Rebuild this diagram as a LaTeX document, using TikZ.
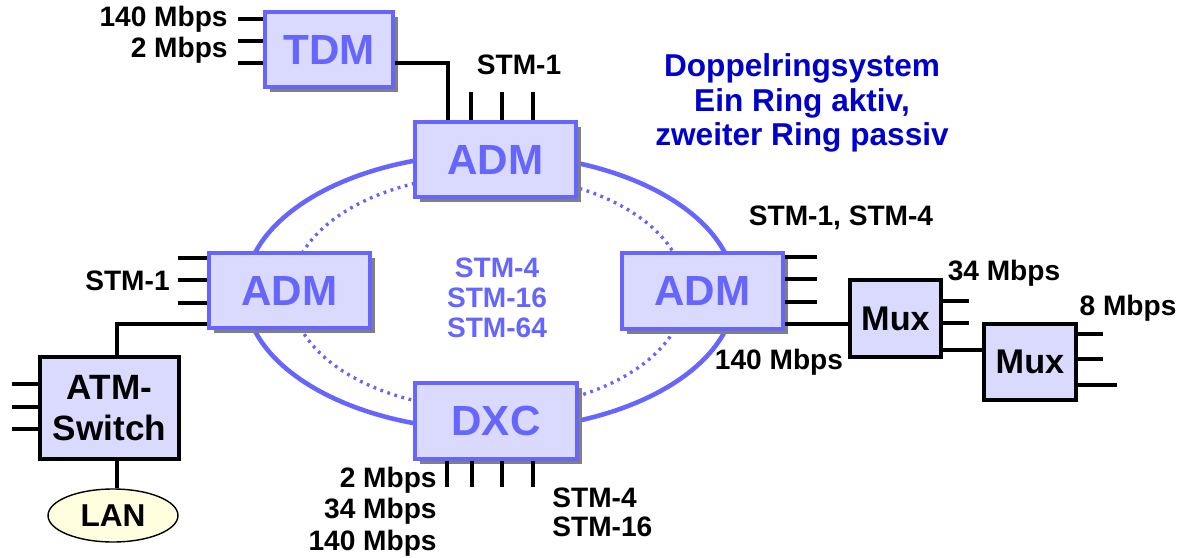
\documentclass[tikz,border=0pt]{standalone}
\usepackage{fontspec}
\setmainfont{Liberation Sans}
\usepackage{xcolor}
\usetikzlibrary{shapes.geometric,shadows}
\definecolor{ringblau}{HTML}{6666FF}
\definecolor{kastenfill}{HTML}{DADAFF}
\definecolor{titelblau}{HTML}{0000CC}
\definecolor{lanfill}{HTML}{FFFFE0}
\newcommand{\lbl}{\fontsize{16}{17.6}\selectfont\bfseries}

\begin{document}
\begin{tikzpicture}[x=0.02cm,y=-0.02cm,
                    knoten/.style={draw=ringblau,line width=2.1pt,fill=kastenfill,
                      text=ringblau,font=\fontsize{24}{26}\selectfont\bfseries,
                      minimum width=3.22cm,minimum height=1.5cm,inner sep=0pt,
                      drop shadow={shadow xshift=0.1cm,shadow yshift=-0.1cm,fill=black!50,opacity=1}},
                    geraet/.style={draw=black,line width=2.4pt,fill=kastenfill,
                      align=center,inner sep=0pt},
                    stub/.style={line width=2.1pt,draw=black},
                    beschr/.style={font=\lbl,inner sep=0pt}]
  \useasboundingbox (0,0) rectangle (1191,558);
  \draw[ringblau,line width=2.6pt] (490,292) ellipse [x radius=4.9cm,y radius=2.76cm];
  \draw[ringblau,line width=1.9pt,dash pattern=on 1.6pt off 2.6pt] (488,292) ellipse [x radius=3.94cm,y radius=2.34cm];

  \node[knoten,minimum width=2.56cm] (tdm) at (329,49.5) {TDM};
  \node[knoten] (admt) at (495.5,159.5) {ADM};
  \node[knoten] (adml) at (289.5,290.5) {ADM};
  \node[knoten,minimum height=1.52cm] (admr) at (702.5,291) {ADM};
  \node[knoten,minimum width=3.24cm,minimum height=1.52cm] (dxc) at (496,421) {DXC};
  \node[geraet,minimum width=2.78cm,minimum height=2.04cm,
        font=\fontsize{20}{23}\selectfont\bfseries] (atm) at (109.5,408) {ATM-\\Switch};
  \node[geraet,minimum width=1.82cm,minimum height=1.54cm,
        font=\fontsize{19.5}{21}\selectfont\bfseries] (mux1) at (895.5,318.5) {Mux};
  \node[geraet,minimum width=1.84cm,minimum height=1.52cm,
        font=\fontsize{19.5}{21}\selectfont\bfseries] (mux2) at (1030,362) {Mux};
  \node[ellipse,draw=black,line width=0.8pt,fill=lanfill,minimum width=2.6cm,
        minimum height=1.06cm,inner sep=0pt,font=\fontsize{18}{20}\selectfont\bfseries]
        (lan) at (113,515.5) {LAN};

  \foreach \yy [count=\i] in {19,41,63} {
    \coordinate (tdmin\i) at (238,\yy);
    \draw[stub] (tdmin\i) -- (tdmin\i -| tdm.west);
  }
  \foreach \xx [count=\i] in {471,502,533} {
    \coordinate (admtin\i) at (\xx,92);
    \draw[stub] (admtin\i) -- (admtin\i |- admt.north);
  }
  \foreach \yy [count=\i] in {258,280,303} {
    \coordinate (admlin\i) at (178,\yy);
    \draw[stub] (admlin\i) -- (admlin\i -| adml.west);
  }
  \foreach \yy [count=\i] in {384,407,429} {
    \coordinate (atmin\i) at (12,\yy);
    \draw[stub] (atmin\i) -- (atmin\i -| atm.west);
  }
  \foreach \yy [count=\i] in {257,279,302} {
    \coordinate (admrout\i) at (817,\yy);
    \draw[stub] (admr.east |- admrout\i) -- (admrout\i);
  }
  \foreach \yy [count=\i] in {301,323} {
    \coordinate (muxaout\i) at (969,\yy);
    \draw[stub] (mux1.east |- muxaout\i) -- (muxaout\i);
  }
  \foreach \yy/\xx [count=\i] in {334/1103,359/1103,385/1117} {
    \coordinate (muxbout\i) at (\xx,\yy);
    \draw[stub] (mux2.east |- muxbout\i) -- (muxbout\i);
  }
  \foreach \xx [count=\i] in {447,472,502,533} {
    \coordinate (dxcout\i) at (\xx,487);
    \draw[stub] (dxc.south -| dxcout\i) -- (dxcout\i);
  }

  \coordinate (tdmknick) at (448,63);
  \coordinate (atmknick) at (117,324);
  \draw[stub] (tdm.east |- tdmknick) -| (admt.north -| tdmknick);
  \draw[stub] (adml.west |- atmknick) -| (atm.north -| atmknick);
  \draw[stub] (atm.south -| atmknick) -- (lan.north -| atmknick);
  \draw[stub] (admr.east |- 0,324) -- (mux1.west |- 0,324);
  \draw[stub] (mux1.east |- 0,350) -- (mux2.west |- 0,350);

  \node[beschr,anchor=east,align=right] (tdmlbl) at (228,34.5) {140 Mbps\\2 Mbps};
  \node[beschr] (admtlbl) at (519,65) {STM-1};
  \node[beschr,anchor=east] (admllbl) at (170,281) {STM-1};
  \node[beschr] (admrlbl) at (841,218) {STM-1, STM-4};
  \node[beschr] (admrlbl2) at (779,362) {140 Mbps};
  \node[beschr] (muxalbl) at (1004,273) {34 Mbps};
  \node[beschr] (muxblbl) at (1128,308) {8 Mbps};
  \node[beschr,anchor=east,align=right,font=\fontsize{16}{17.9}\selectfont\bfseries]
        (dxclbl) at (437,511.5) {2 Mbps\\34 Mbps\\140 Mbps};
  \node[beschr,anchor=west,align=left,font=\fontsize{16}{16.5}\selectfont\bfseries]
        (dxclbl2) at (552,512.5) {STM-4\\STM-16};
  \node[beschr,align=center,text=ringblau,font=\fontsize{16}{17}\selectfont\bfseries]
        (ringlbl) at (497,298) {STM-4\\STM-16\\STM-64};
  \node[beschr,align=center,text=titelblau,font=\fontsize{18}{19.5}\selectfont\bfseries]
        (titel) at (802,103) {Doppelringsystem\\Ein Ring aktiv,\\zweiter Ring passiv};
\end{tikzpicture}
\end{document}
